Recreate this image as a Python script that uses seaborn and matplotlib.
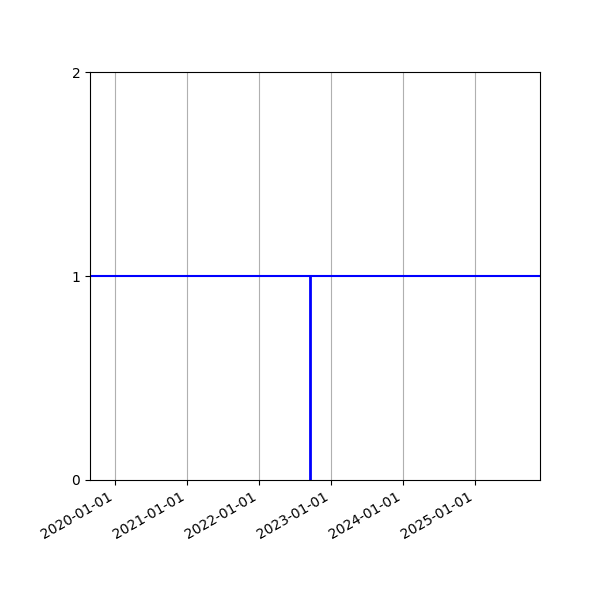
import pandas as pd
import matplotlib
matplotlib.use("Agg")
import matplotlib.pyplot as plt
import matplotlib.dates as mdates
import seaborn as sns

# flat level across the whole range, plus one event marked as a vertical line
span_dates = pd.to_datetime(["2019-08-29", "2025-11-28"])
span_values = [1, 1]
event_date = pd.to_datetime("2022-09-19")
event_low, event_high = 0, 1
y_ticks = [0, 1, 2]

df = pd.DataFrame({"date": span_dates, "value": span_values})

fig, ax = plt.subplots(figsize=(6, 6), dpi=100)
sns.lineplot(data=df, x="date", y="value", ax=ax, color="b", linewidth=1.5,
             estimator=None)
ax.vlines(event_date, event_low, event_high, colors="b", linewidth=2)

ax.set_xlim(span_dates.min(), span_dates.max())
ax.set_ylim(0, 2)
ax.set_yticks(y_ticks)
ax.xaxis.set_major_locator(mdates.YearLocator())
ax.xaxis.set_major_formatter(mdates.DateFormatter("%Y-%m-%d"))
ax.grid(axis="x")
ax.set_xlabel("")
ax.set_ylabel("")
fig.autofmt_xdate()
fig.subplots_adjust(left=0.15, right=0.9, top=0.88, bottom=0.2)

fig.savefig("out.png", dpi=100)
